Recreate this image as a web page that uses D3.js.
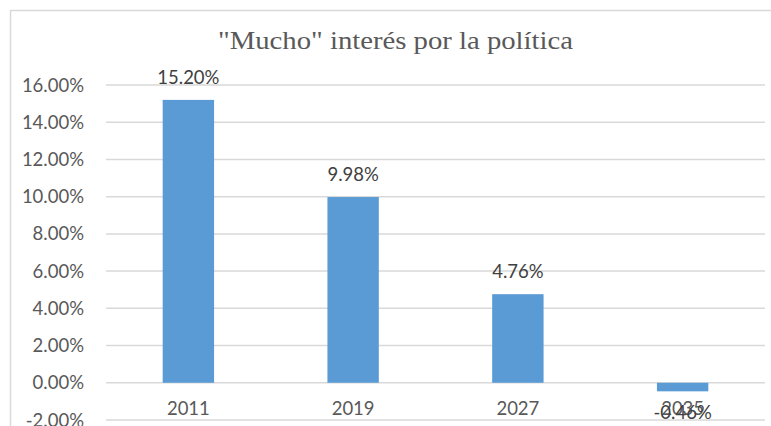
<!DOCTYPE html>
<html><head><meta charset="utf-8">
<script src="https://cdn.jsdelivr.net/npm/d3@7"></script>
<style>body{margin:0;background:#fff}svg{display:block}</style>
</head><body>
<script>
const categories = ["2011","2019","2027","2035"];
const values = [15.20, 9.98, 4.76, -0.46];
const yTicks = [-2,0,2,4,6,8,10,12,14,16];
const title = "\"Mucho\" interés por la política";

const W=771,H=426;
const pct = d => d.toFixed(2) + "%";
const svg=d3.select("body").append("svg").attr("width",W).attr("height",H);
svg.append("rect").attr("x",10.5).attr("y",10.5).attr("width",W+10).attr("height",H+10)
  .attr("fill","#fff").attr("stroke","#d9d9d9").attr("stroke-width",1.5);

const x=d3.scaleBand().domain(categories).range([106,765]).paddingInner(0.688).paddingOuter(0.344);
const y=d3.scaleLinear().domain([-2,16]).range([420,85]);

const font="Lato, 'Liberation Sans', sans-serif";
const gy=svg.append("g");
gy.selectAll("line").data(yTicks).join("line")
  .attr("x1",106).attr("x2",765).attr("y1",d=>y(d)).attr("y2",d=>y(d))
  .attr("stroke","#d9d9d9").attr("stroke-width",1.5);
gy.selectAll("text").data(yTicks).join("text")
  .attr("x",84).attr("y",d=>y(d)+6.5).attr("text-anchor","end")
  .attr("font-family",font).attr("font-size",18.5).attr("fill","#595959")
  .text(pct);

svg.selectAll("rect.bar").data(values).join("rect").attr("class","bar")
  .attr("x",(d,i)=>x(categories[i])).attr("width",x.bandwidth())
  .attr("y",d=>y(Math.max(0,d))).attr("height",d=>Math.abs(y(d)-y(0)))
  .attr("fill","#5b9bd5");

svg.selectAll("text.cat").data(categories).join("text").attr("class","cat")
  .attr("x",d=>x(d)+x.bandwidth()/2).attr("y",415).attr("text-anchor","middle")
  .attr("font-family",font).attr("font-size",18.5).attr("fill","#595959").text(d=>d);

svg.selectAll("text.lbl").data(values).join("text").attr("class","lbl")
  .attr("x",(d,i)=>x(categories[i])+x.bandwidth()/2)
  .attr("y",d=>d>=0? y(d)-16 : y(d)+28).attr("text-anchor","middle")
  .attr("font-family",font).attr("font-size",18.5).attr("fill","#404040")
  .text(pct);

svg.append("text").attr("x",395.5).attr("y",49.3).attr("text-anchor","middle")
  .attr("font-family","'Liberation Serif', 'Times New Roman', serif").attr("font-size",25)
  .attr("fill","#595959").attr("textLength",355).attr("lengthAdjust","spacingAndGlyphs").text(title);
</script>
</body></html>
